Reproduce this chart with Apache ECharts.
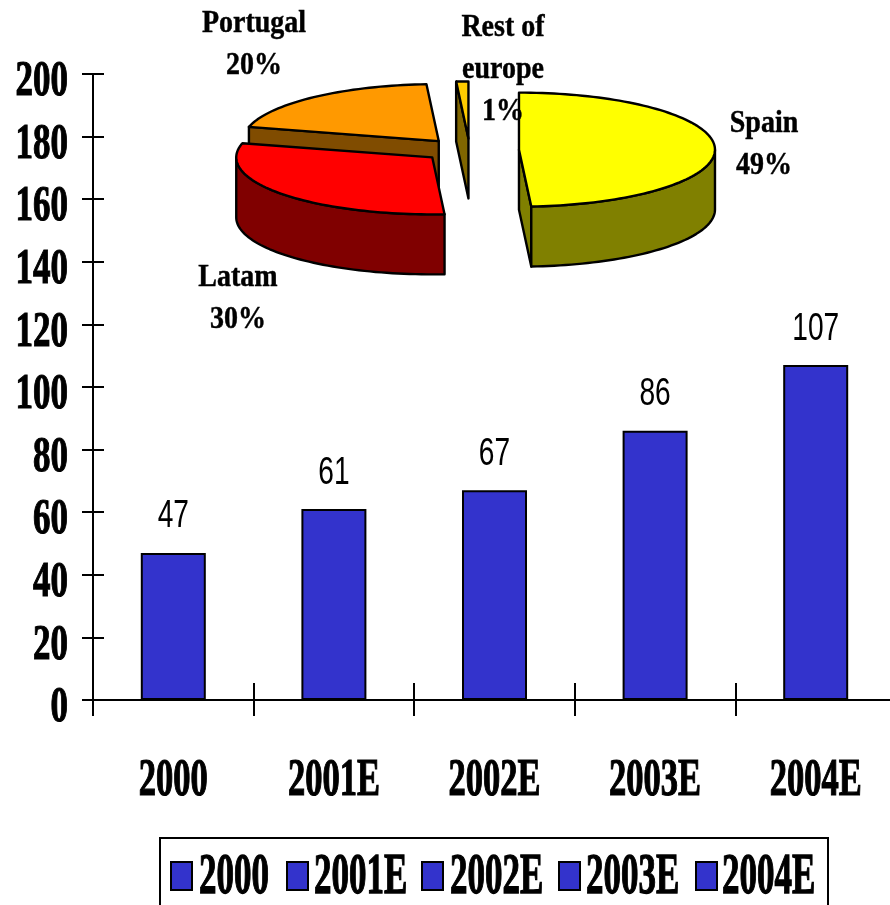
<!DOCTYPE html>
<html>
<head>
<meta charset="utf-8">
<style>html,body{margin:0;padding:0;background:#fff}#main{width:890px;height:905px}</style>
<script src="https://cdn.jsdelivr.net/npm/echarts@6/dist/echarts.min.js"></script>
</head>
<body>
<div id="main"></div>
<script>
// Revenue by year
const categories = ['2000', '2001E', '2002E', '2003E', '2004E'];
const revenue = [47, 61, 67, 86, 107];
const yTicks = [0, 20, 40, 60, 80, 100, 120, 140, 160, 180, 200];

// Regional split
const regions = ['Spain', 'Latam', 'Portugal', 'Rest of\neurope'];
const regionShares = [49, 30, 20, 1];
const regionTops = ['#ffff00', '#ff0000', '#ff9900', '#ffcc00'];
const regionSides = ['#808000', '#800000', '#804c00', '#806600'];
const regionLabelAt = [[764, 143], [238, 297], [254, 43], [503, 68]];

// Pie projection: an exploded disc seen from above, starting at 12 o'clock
const PIE = { cx: 470, cy: 150, rx: 196, ry: 57, depth: 60, explode: 49, explodeY: 0.236 };

// Legend layout
const legendSwatchX = [171, 287, 422, 559, 696];
const legendTextX = [199, 314, 450, 586, 722];

const SERIF = '"Liberation Serif", "Times New Roman", serif';
const BLUE = '#3333cc';

function serifText(text, size, extra) {
  return Object.assign({ text, fill: '#000', font: 'bold ' + size + 'px ' + SERIF,
    verticalAlign: 'middle', stroke: '#000', lineWidth: 0.8 }, extra);
}

function renderSlice(params, api) {
  const i = params.dataIndex;
  const total = regionShares.reduce((a, b) => a + b, 0);
  const before = regionShares.slice(0, i).reduce((a, b) => a + b, 0);
  const t0 = -Math.PI / 2 + before / total * 2 * Math.PI;
  const t1 = t0 + api.value(0) / total * 2 * Math.PI;
  const mid = (t0 + t1) / 2;
  const cx = PIE.cx + PIE.explode * Math.cos(mid);
  const cy = PIE.cy + PIE.explode * PIE.explodeY * Math.sin(mid);
  const at = (t, dz) => [cx + PIE.rx * Math.cos(t), cy + PIE.ry * Math.sin(t) + (dz || 0)];
  const arc = (a, b, dz) => {
    const n = Math.max(2, Math.ceil(Math.abs(b - a) / 0.03));
    const pts = [];
    for (let k = 0; k <= n; k++) pts.push(at(a + (b - a) * k / n, dz));
    return pts;
  };
  const z2 = Math.round(Math.sin(mid) * 100) + 200;
  const face = (points, fill, order) => ({
    type: 'polygon', z2: z2 + order, shape: { points },
    style: { fill, stroke: '#000', lineWidth: 2.4, lineJoin: 'round' }
  });
  const side = regionSides[i];
  const children = [];
  // Radial cut faces that turn towards the viewer
  if (Math.cos(t0) < -1e-6) {
    children.push(face([[cx, cy], at(t0), at(t0, PIE.depth), [cx, cy + PIE.depth]], side, 0));
  }
  if (Math.cos(t1) > 1e-6) {
    children.push(face([[cx, cy], at(t1), at(t1, PIE.depth), [cx, cy + PIE.depth]], side, 0));
  }
  // Outer rim, front half only
  const a = Math.max(t0, 0), b = Math.min(t1, Math.PI);
  if (b > a) {
    children.push(face(arc(a, b, 0).concat(arc(b, a, PIE.depth)), side, 1));
  }
  children.push(face([[cx, cy]].concat(arc(t0, t1, 0)), regionTops[i], 2));
  return { type: 'group', children };
}

const chart = echarts.init(document.getElementById('main'));
const grid = { left: 93, top: 74, width: 803, height: 626, outerBoundsMode: 'none' };
const axisLine = { show: true, onZero: false, lineStyle: { color: '#000', width: 2 } };

chart.setOption({
  animation: false,
  backgroundColor: '#fff',
  grid,
  xAxis: [
    { type: 'category', data: categories, axisLine,
      axisTick: { show: true, length: 16, alignWithLabel: false, lineStyle: { color: '#000', width: 2 } },
      axisLabel: { show: false }, splitLine: { show: false } },
    { type: 'category', data: categories, position: 'bottom', axisLine: { show: false },
      axisTick: { show: true, inside: true, length: 17, lineStyle: { color: '#000', width: 2 } },
      axisLabel: { show: false }, splitLine: { show: false } }
  ],
  yAxis: [
    { type: 'value', min: 0, max: 200, interval: 20, axisLine,
      axisTick: { show: true, length: 11, lineStyle: { color: '#000', width: 2 } },
      axisLabel: { show: false }, splitLine: { show: false } },
    { type: 'value', min: 0, max: 200, interval: 20, position: 'left', axisLine: { show: false },
      axisTick: { show: true, inside: true, length: 11, lineStyle: { color: '#000', width: 2 } },
      axisLabel: { show: false }, splitLine: { show: false } }
  ],
  series: [
    { type: 'bar', data: revenue, barWidth: 65, silent: true,
      itemStyle: { color: BLUE, borderColor: '#000', borderWidth: 2 } },

    // Value captions above the bars
    { type: 'custom', silent: true, z: 5,
      data: revenue.map((v, i) => [i, v]),
      renderItem(params, api) {
        const p = api.coord([api.value(0), api.value(1)]);
        return { type: 'text', x: p[0], y: p[1] - 36, scaleX: 0.74,
          style: { text: String(api.value(1)), fill: '#000', align: 'center', verticalAlign: 'middle',
            font: '38px "Liberation Sans", Arial, sans-serif' } };
      } },

    // Value axis tick labels
    { type: 'custom', silent: true, z: 5,
      data: yTicks.map(v => [0, v]),
      renderItem(params, api) {
        const p = api.coord([0, api.value(1)]);
        return { type: 'text', x: params.coordSys.x - 25, y: p[1] + 8, scaleY: 1.45,
          style: serifText(String(api.value(1)), 35, { align: 'right' }) };
      } },

    // Category axis labels
    { type: 'custom', silent: true, z: 5,
      data: categories.map((c, i) => [i, 0]),
      renderItem(params, api) {
        const p = api.coord([api.value(0), 0]);
        return { type: 'text', x: p[0], y: p[1] + 82, scaleY: 1.5,
          style: serifText(categories[params.dataIndex], 34.5, { align: 'center' }) };
      } },

    // Regional split
    { type: 'custom', coordinateSystem: 'none', silent: true, z: 6,
      data: regionShares, renderItem: renderSlice },

    // Regional split captions
    { type: 'custom', coordinateSystem: 'none', silent: true, z: 7,
      data: regionShares,
      renderItem(params, api) {
        const i = params.dataIndex;
        return { type: 'text', x: regionLabelAt[i][0], y: regionLabelAt[i][1] + 2, z2: 900, scaleY: 1.1,
          style: serifText(regions[i] + '\n' + api.value(0) + '%', 28,
            { align: 'center', lineHeight: 38, lineWidth: 0.4 }) };
      } }
  ],
  graphic: [
    { type: 'rect', z: 10, shape: { x: 160, y: 838, width: 668, height: 80 },
      style: { fill: '#fff', stroke: '#000', lineWidth: 2 } }
  ].concat(categories.flatMap((c, i) => [
    { type: 'rect', z: 11, shape: { x: legendSwatchX[i], y: 862, width: 21, height: 28 },
      style: { fill: BLUE, stroke: '#000', lineWidth: 2 } },
    { type: 'text', z: 11, x: legendTextX[i], y: 879, scaleY: 1.6,
      style: serifText(c, 35, { align: 'left' }) }
  ]))
});
</script>
</body>
</html>
